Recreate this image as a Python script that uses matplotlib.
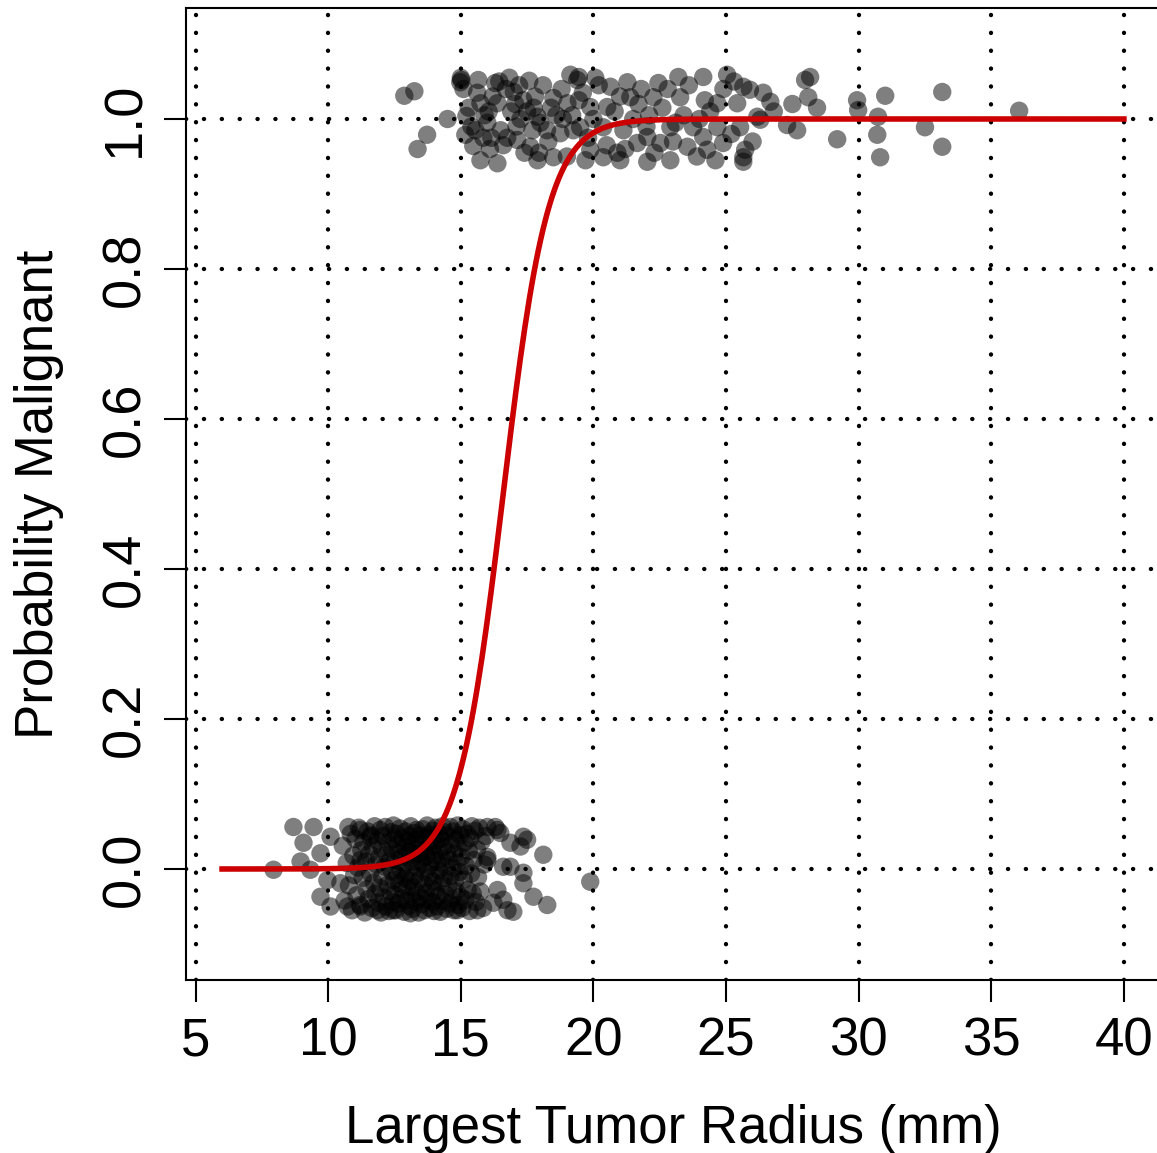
import numpy as np
import matplotlib
matplotlib.use("Agg")
import matplotlib.pyplot as plt

plt.rcParams['font.family'] = ['Liberation Sans', 'DejaVu Sans']

# fitted logistic model: logit(p) = b0 + b1 * radius
b0 = -19.42
b1 = 1.17
curve_x = np.linspace(6, 40, 400)

# malignant cases (jittered around 1)
malig_x = [12.87, 13.25, 13.73, 13.37, 14.50, 14.98, 15.66, 16.30, 16.83, 17.58,
           15.21, 15.17, 15.47, 15.74, 16.38, 15.62, 15.74, 16.38, 16.00, 17.00,
           17.36, 17.89, 17.13, 17.62, 17.89, 18.49, 18.49, 19.02, 19.13, 19.39,
           18.75, 19.24, 19.45, 20.07, 20.64, 21.28, 22.45, 23.20, 24.14, 25.04,
           25.65, 26.40, 19.45, 19.88, 20.52, 21.39, 22.26, 23.27, 24.20, 24.67,
           25.42, 26.18, 19.50, 20.37, 21.13, 22.03, 22.90, 23.76, 24.67, 25.53,
           19.88, 20.37, 21.01, 22.03, 22.90, 23.54, 24.29, 24.89, 25.65, 21.65,
           22.52, 24.14, 25.90, 26.67, 27.98, 28.17, 28.10, 28.43, 27.30, 27.68,
           29.19, 29.94, 29.98, 31.00, 30.73, 30.70, 30.81, 32.50, 33.15, 33.15,
           36.05, 25.72, 25.65, 26.29,
           15.00, 15.10, 15.30, 15.40, 15.90, 16.10, 16.20, 16.50, 16.60, 16.70,
           16.90, 17.10, 17.20, 17.40, 17.50, 17.70, 17.80, 18.00, 18.10, 18.30,
           18.60, 18.80, 19.00, 19.20, 19.60, 19.80, 20.00, 20.20, 20.50, 20.80,
           21.00, 21.20, 21.50, 21.80, 22.10, 22.30, 22.60, 22.80, 23.00, 23.40,
           23.60, 23.90, 24.40, 24.60, 24.90, 25.20, 25.30, 26.00, 26.80, 27.50,
           20.90, 18.40, 17.95, 16.45, 15.85, 19.70, 21.70, 23.10, 24.00, 22.00,
           15.02, 15.55, 16.05, 16.75, 17.25, 17.75, 18.25, 16.15, 17.05, 18.85]
malig_y = [1.031, 1.037, 0.979, 0.960, 1.000, 1.049, 1.052, 1.048, 1.055, 1.051,
           1.004, 0.979, 0.964, 0.945, 0.941, 1.035, 1.021, 1.021, 0.995, 1.036,
           1.025, 1.003, 0.972, 0.963, 0.945, 0.949, 1.028, 1.021, 1.059, 1.052,
           0.981, 0.985, 1.056, 1.055, 1.043, 1.049, 1.048, 1.056, 1.056, 1.059,
           1.043, 1.035, 1.025, 1.016, 1.016, 1.029, 1.029, 1.029, 1.025, 1.021,
           1.021, 1.003, 0.989, 0.989, 0.985, 0.976, 0.989, 0.989, 0.989, 0.989,
           0.959, 0.949, 0.945, 0.943, 0.945, 0.963, 0.959, 0.968, 0.949, 0.968,
           0.968, 0.976, 1.039, 1.023, 1.052, 1.056, 1.029, 1.015, 0.992, 0.985,
           0.973, 1.025, 1.012, 1.031, 1.003, 0.979, 0.949, 0.989, 1.036, 0.963,
           1.011, 0.959, 0.943, 0.999,
           1.055, 1.040, 1.015, 0.990, 1.005, 0.960, 1.030, 0.985, 0.965, 1.040,
           1.010, 0.990, 1.045, 0.955, 1.010, 0.985, 1.030, 0.995, 1.045, 0.970,
           1.005, 1.040, 0.950, 1.005, 1.035, 0.975, 1.000, 1.045, 0.965, 1.010,
           1.030, 0.960, 1.000, 1.040, 1.005, 0.955, 1.015, 1.040, 0.970, 1.005,
           1.045, 0.950, 1.010, 0.945, 1.040, 0.980, 1.050, 0.970, 1.010, 1.020,
           0.955, 1.015, 0.955, 1.050, 0.975, 0.945, 1.020, 0.995, 1.000, 0.990,
           1.052, 0.985, 1.010, 0.975, 1.000, 1.015, 0.985, 0.975, 1.020, 1.000]

# benign cases (jittered around 0)
benign_x = [7.94, 8.69, 9.45, 9.07, 8.96, 9.33, 9.71, 10.09, 10.73, 10.76,
            10.09, 9.71, 9.97, 10.46, 11.22, 11.59, 11.22, 11.22, 11.86, 12.46,
            13.10, 16.00, 16.38, 16.87, 17.36, 17.25, 18.11, 17.36, 17.74, 18.26,
            16.98, 19.88, 16.38, 16.60, 16.00, 16.60, 17.36, 17.50, 16.30, 16.49,
            16.76, 16.23, 16.87, 16.00, 15.62, 14.87,
            10.55, 10.62, 10.70, 10.78, 10.85, 10.90, 10.95, 10.98,
            11.03, 11.07, 11.12, 11.15, 11.20, 11.25, 11.30, 11.33, 11.38, 11.42, 11.45, 11.49,
            11.52, 11.55, 11.58, 11.62, 11.65, 11.68, 11.72, 11.75, 11.78, 11.82,
            11.85, 11.88, 11.91, 11.94, 11.96, 11.99,
            12.02, 12.04, 12.07, 12.10, 12.12, 12.15, 12.18, 12.21, 12.24, 12.26,
            12.29, 12.32, 12.34, 12.37, 12.40, 12.42, 12.44, 12.46, 12.48, 12.49,
            12.51, 12.53, 12.55, 12.57, 12.60, 12.62, 12.64, 12.66, 12.68, 12.71,
            12.73, 12.75, 12.77, 12.79, 12.82, 12.84, 12.86, 12.88, 12.90, 12.92,
            12.94, 12.96, 12.97, 12.99,
            13.01, 13.03, 13.05, 13.07, 13.09, 13.11, 13.13, 13.15, 13.17, 13.19,
            13.21, 13.23, 13.25, 13.27, 13.29, 13.31, 13.33, 13.35, 13.37, 13.39,
            13.41, 13.43, 13.45, 13.46, 13.48, 13.49,
            13.51, 13.53, 13.55, 13.57, 13.59, 13.61, 13.63, 13.65, 13.67, 13.69,
            13.71, 13.73, 13.75, 13.77, 13.79, 13.81, 13.83, 13.85, 13.87, 13.89,
            13.91, 13.93, 13.95, 13.96, 13.98, 13.99,
            14.01, 14.03, 14.05, 14.07, 14.09, 14.11, 14.13, 14.15, 14.17, 14.19,
            14.21, 14.23, 14.25, 14.27, 14.29, 14.31, 14.33, 14.35, 14.37, 14.39,
            14.42, 14.44, 14.46, 14.48,
            14.51, 14.53, 14.56, 14.58, 14.60, 14.62, 14.65, 14.67, 14.69, 14.72,
            14.74, 14.76, 14.79, 14.81, 14.83, 14.86, 14.88, 14.90, 14.93, 14.95,
            14.97, 14.99,
            15.02, 15.05, 15.08, 15.11, 15.14, 15.17, 15.20, 15.23, 15.26, 15.30,
            15.33, 15.36, 15.39, 15.42, 15.45, 15.48,
            15.53, 15.57, 15.61, 15.65, 15.70, 15.74, 15.79, 15.84, 15.88, 15.94]
benign_y = [-0.001, 0.056, 0.056, 0.035, 0.010, -0.001, -0.037, -0.050, -0.050, 0.056,
            0.043, 0.021, -0.015, -0.019, 0.052, 0.043, 0.012, -0.050, -0.055, -0.055,
            -0.059, 0.056, 0.052, 0.035, 0.043, 0.030, 0.019, -0.019, -0.037, -0.048,
            -0.057, -0.017, -0.028, -0.041, 0.012, 0.003, -0.005, 0.039, 0.056, 0.048,
            -0.055, -0.045, 0.003, 0.016, -0.055, -0.055,
            0.031, -0.042, 0.008, -0.022, 0.047, -0.055, 0.018, -0.008,
            0.040, -0.035, 0.002, 0.055, -0.048, 0.025, -0.012, 0.036, -0.058, 0.010, -0.027, 0.050,
            -0.040, 0.020, -0.005, 0.045, -0.052, 0.030, -0.018, 0.057, -0.033, 0.006,
            0.038, -0.045, 0.015, -0.025, 0.052, -0.058,
            0.028, -0.010, 0.044, -0.038, 0.003, 0.056, -0.050, 0.019, -0.021, 0.035,
            -0.056, 0.011, -0.030, 0.049, -0.003, 0.026, -0.044, 0.058, -0.015, 0.040,
            -0.034, 0.012, -0.055, 0.047, -0.008, 0.033, -0.046, 0.022, -0.019, 0.054,
            -0.002, -0.039, 0.016, 0.041, -0.027, 0.005, -0.057, 0.029, -0.013, 0.050,
            -0.042, 0.018, -0.024, 0.037,
            -0.006, 0.044, -0.049, 0.023, -0.016, 0.057, -0.036, 0.009, 0.034, -0.053,
            0.015, -0.025, 0.048, -0.009, 0.027, -0.043, 0.052, -0.031, 0.002, 0.039,
            -0.058, 0.020, -0.014, 0.045, -0.038, 0.011,
            0.031, -0.047, 0.007, 0.053, -0.020, 0.024, -0.055, 0.042, -0.004, -0.032,
            0.017, 0.058, -0.041, 0.028, -0.011, 0.046, -0.052, 0.004, 0.036, -0.026,
            0.013, -0.044, 0.051, -0.017, 0.032, -0.056,
            0.019, -0.029, 0.055, -0.007, 0.038, -0.050, 0.010, -0.036, 0.047, -0.002,
            0.025, -0.057, 0.040, -0.019, 0.014, 0.057, -0.043, 0.030, -0.012, 0.049,
            -0.034, 0.003, -0.053, 0.022,
            0.044, -0.023, 0.012, -0.046, 0.056, -0.009, 0.033, -0.039, 0.001, 0.050,
            -0.055, 0.021, -0.016, 0.039, -0.030, 0.008, 0.058, -0.048, 0.027, -0.004,
            0.045, -0.037,
            0.016, -0.052, 0.053, -0.014, 0.035, -0.041, 0.004, 0.047, -0.028, 0.024,
            -0.056, 0.041, -0.006, 0.057, -0.033, 0.012,
            0.051, -0.044, 0.026, -0.011, 0.055, -0.030, 0.037, -0.052, 0.006, 0.044]

x_ticks = [5, 10, 15, 20, 25, 30, 35, 40]
y_ticks = [0.0, 0.2, 0.4, 0.6, 0.8, 1.0]
y_labels = ['0.0', '0.2', '0.4', '0.6', '0.8', '1.0']

fig = plt.figure(figsize=(11.57, 11.53), dpi=100)
ax = fig.add_axes([186 / 1157, 173 / 1153, 974 / 1157, 972 / 1153])
ax.set_xlim(4.64, 41.36)
ax.set_ylim(-0.148, 1.148)

# dotted grid like R's grid(col="black")
for gx in x_ticks:
    ax.axvline(gx, color='black', lw=3.1, linestyle=(0, (0.05, 4.1)),
               dash_capstyle='round', zorder=1)
for gy in y_ticks:
    ax.axhline(gy, color='black', lw=3.1, linestyle=(0, (0.05, 4.1)),
               dash_capstyle='round', zorder=1)

ax.scatter(benign_x, benign_y, s=175, color='black', alpha=0.5,
           edgecolors='none', zorder=2)
ax.scatter(malig_x, malig_y, s=175, color='black', alpha=0.5,
           edgecolors='none', zorder=2)

curve_p = 1 / (1 + np.exp(-(b0 + b1 * curve_x)))
ax.plot(curve_x, curve_p, color='#CC0000', lw=4.0, zorder=3)

ax.set_xticks(x_ticks)
ax.set_yticks(y_ticks)
ax.set_yticklabels(y_labels)
ax.tick_params(axis='both', length=16, width=1.5, labelsize=38, pad=10)
ax.tick_params(axis='y', labelrotation=90, labelsize=39)
for lab in ax.get_yticklabels():
    lab.set_va('center')

for sp in ax.spines.values():
    sp.set_linewidth(1.5)

ax.set_xlabel('Largest Tumor Radius (mm)', fontsize=38, labelpad=27)
ax.set_ylabel('Probability Malignant', fontsize=38, labelpad=26)

fig.savefig('out.png', dpi=100)
